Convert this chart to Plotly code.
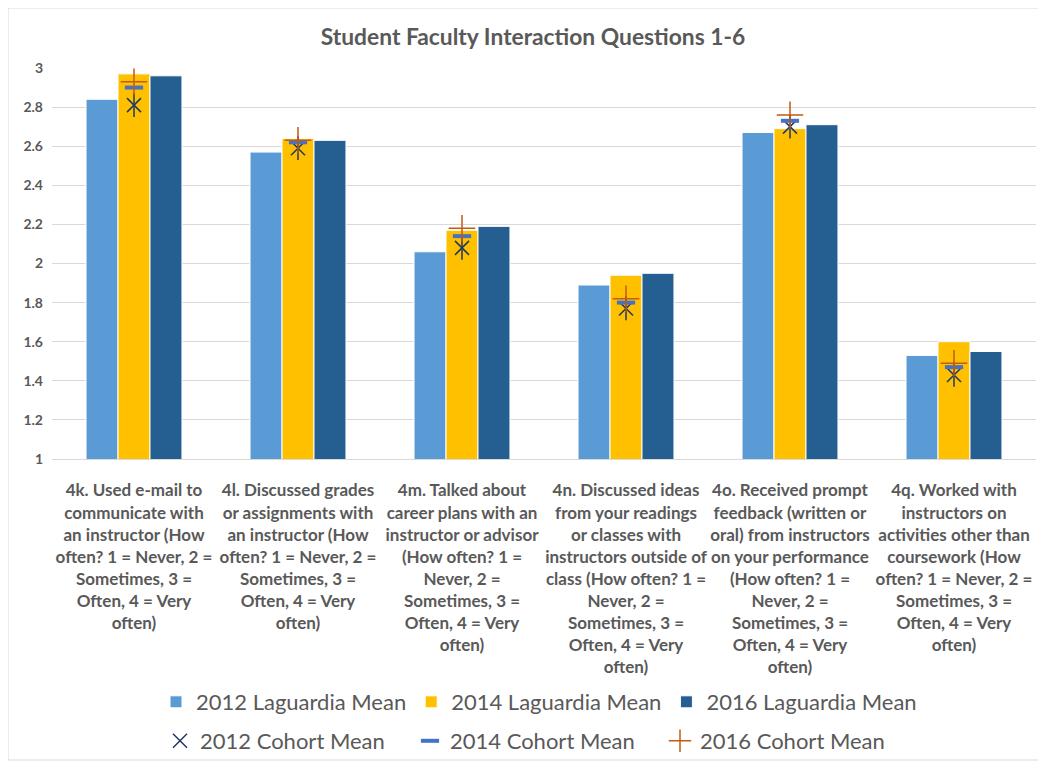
import plotly.graph_objects as go

### Data
categories = [
    "4k. Used e-mail to<br>communicate with<br>an instructor (How<br>often? 1 = Never, 2 =<br>Sometimes, 3 =<br>Often, 4 = Very<br>often)",
    "4l. Discussed grades<br>or assignments with<br>an instructor (How<br>often? 1 = Never, 2 =<br>Sometimes, 3 =<br>Often, 4 = Very<br>often)",
    "4m. Talked about<br>career plans with an<br>instructor or advisor<br>(How often? 1 =<br>Never, 2 =<br>Sometimes, 3 =<br>Often, 4 = Very<br>often)",
    "4n. Discussed ideas<br>from your readings<br>or classes with<br>instructors outside of<br>class (How often? 1 =<br>Never, 2 =<br>Sometimes, 3 =<br>Often, 4 = Very<br>often)",
    "4o. Received prompt<br>feedback (written or<br>oral) from instructors<br>on your performance<br>(How often? 1 =<br>Never, 2 =<br>Sometimes, 3 =<br>Often, 4 = Very<br>often)",
    "4q. Worked with<br>instructors on<br>activities other than<br>coursework (How<br>often? 1 = Never, 2 =<br>Sometimes, 3 =<br>Often, 4 = Very<br>often)",
]

laguardia_2012 = [2.84, 2.57, 2.06, 1.89, 2.67, 1.53]
laguardia_2014 = [2.97, 2.64, 2.17, 1.94, 2.69, 1.60]
laguardia_2016 = [2.96, 2.63, 2.19, 1.95, 2.71, 1.55]

cohort_2012 = [2.81, 2.59, 2.08, 1.77, 2.70, 1.43]
cohort_2014 = [2.90, 2.62, 2.14, 1.80, 2.73, 1.47]
cohort_2016 = [2.93, 2.63, 2.18, 1.82, 2.76, 1.49]

y_ticks = [1, 1.2, 1.4, 1.6, 1.8, 2, 2.2, 2.4, 2.6, 2.8, 3]

### Style
FONT = "Lato"
TEXT = "#595959"
GRID = "#d9d9d9"
W, H = 1038, 755  # page body has an 8px margin

fig = go.Figure()

# Bars
for name, vals, color in [
    ("2012 Laguardia Mean", laguardia_2012, "#5b9bd5"),
    ("2014 Laguardia Mean", laguardia_2014, "#ffc000"),
    ("2016 Laguardia Mean", laguardia_2016, "#255e91"),
]:
    fig.add_trace(
        go.Bar(
            x=categories,
            y=vals,
            name=name,
            marker=dict(color=color, line=dict(color="white", width=1)),
            legend="legend",
        )
    )

# Cohort markers (all sit on the middle bar)
fig.add_trace(
    go.Scatter(
        x=categories,
        y=cohort_2012,
        mode="markers",
        name="2012 Cohort Mean",
        marker=dict(symbol="x-thin-open", size=14, color="#1f3864", line=dict(color="#1f3864", width=1.5)),
        legend="legend2",
    )
)
# vertical stroke that turns the x into an asterisk
fig.add_trace(
    go.Scatter(
        x=categories,
        y=cohort_2012,
        mode="markers",
        showlegend=False,
        hoverinfo="skip",
        marker=dict(symbol="line-ns-open", size=17, color="#1f3864", line=dict(color="#1f3864", width=1.5)),
        legend="legend2",
    )
)
fig.add_trace(
    go.Scatter(
        x=categories,
        y=cohort_2014,
        mode="markers",
        name="2014 Cohort Mean",
        marker=dict(symbol="line-ew-open", size=13, color="#4472c4", line=dict(color="#4472c4", width=4)),
        legend="legend2",
    )
)
fig.add_trace(
    go.Scatter(
        x=categories,
        y=cohort_2016,
        mode="markers",
        name="2016 Cohort Mean",
        marker=dict(symbol="cross-thin-open", size=19, color="#c55a11", line=dict(color="#c55a11", width=1.5)),
        legend="legend2",
    )
)

fig.update_layout(
    width=W,
    height=H,
    margin=dict(l=44, r=10, t=60, b=304),
    paper_bgcolor="white",
    plot_bgcolor="white",
    font=dict(family=FONT, color=TEXT),
    barmode="group",
    bargap=0.415,
    bargroupgap=0,
    title=dict(
        text="<b>Student Faculty Interaction Questions 1-6</b>",
        x=525 / W,
        xanchor="center",
        y=1 - 29 / H,
        yanchor="middle",
        font=dict(size=22.8, color=TEXT, family=FONT),
    ),
    legend=dict(
        orientation="h",
        traceorder="normal",
        xref="container",
        x=531 / W,
        xanchor="center",
        yref="container",
        y=1 - 694 / H,
        yanchor="middle",
        bgcolor="rgba(0,0,0,0)",
        font=dict(size=22, color=TEXT),
    ),
    legend2=dict(
        orientation="h",
        traceorder="normal",
        xref="container",
        x=527 / W,
        xanchor="center",
        yref="container",
        y=1 - 733 / H,
        yanchor="middle",
        bgcolor="rgba(0,0,0,0)",
        font=dict(size=22, color=TEXT),
        entrywidth=205,
    ),
    shapes=[
        dict(
            type="rect",
            xref="paper",
            yref="paper",
            x0=(0 - 44) / 984,
            x1=(1035 - 44) / 984,
            y0=(451 - 752) / 391,
            y1=(451 - 0) / 391,
            line=dict(color=GRID, width=1),
            layer="below",
        )
    ],
)

fig.update_xaxes(
    tickfont=dict(size=17, color=TEXT, family=FONT, weight="bold"),
    ticks="",
    showline=True,
    linecolor=GRID,
    tickangle=0,
    ticklabelstandoff=16,
    automargin=False,
)
fig.update_yaxes(
    range=[1, 3],
    tickvals=y_ticks,
    ticktext=[f"{v:g}" for v in y_ticks],
    tickfont=dict(size=14, color=TEXT, family=FONT, weight="bold"),
    showgrid=True,
    gridcolor=GRID,
    zeroline=False,
    ticks="",
    ticklabelstandoff=8,
    automargin=False,
)

fig.write_html("out.html")
